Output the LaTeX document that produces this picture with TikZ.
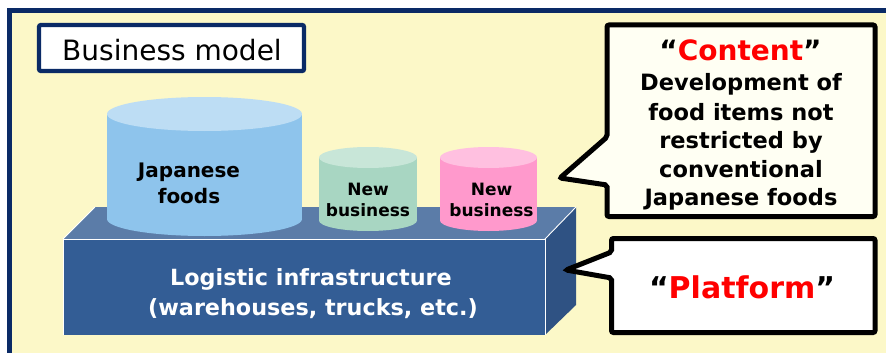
\documentclass[tikz,border=0pt]{standalone}
\usepackage{fontspec}
\setmainfont{DejaVu Sans}
\definecolor{bgyellow}{HTML}{FCF8C8}
\definecolor{navy}{HTML}{0A2A66}
\definecolor{boxfront}{HTML}{335D95}
\definecolor{boxtop}{HTML}{5B7CA8}
\definecolor{boxright}{HTML}{2F5283}
\definecolor{blueside}{HTML}{8EC4EC}
\definecolor{bluetop}{HTML}{BDDDF4}
\definecolor{greenside}{HTML}{A8D6C2}
\definecolor{greentop}{HTML}{C8E6D8}
\definecolor{pinkside}{HTML}{FF99CC}
\definecolor{pinktop}{HTML}{FFC0E0}
\definecolor{cream}{HTML}{FFFFF3}
\definecolor{hlred}{HTML}{FF0000}
\newcommand\drawcyl[7]{%
  \fill[#6] (#1,#3) rectangle (#2,#4);
  \fill[#6] ({(#1+#2)/2},#4) ellipse[x radius={(#2-#1)/2}, y radius=#5];
  \fill[#7] ({(#1+#2)/2},#3) ellipse[x radius={(#2-#1)/2}, y radius=#5];
}
\begin{document}
\begin{tikzpicture}[x=1pt,y=-1pt,
  cyltext/.style={anchor=base, inner sep=0pt, font=\fontsize{20pt}{24pt}\selectfont\bfseries},
  smalltext/.style={anchor=base, inner sep=0pt, font=\fontsize{17pt}{20pt}\selectfont\bfseries},
  boxtext/.style={anchor=base, inner sep=0pt, text=white, font=\fontsize{22.3pt}{26pt}\selectfont\bfseries},
  calltext/.style={anchor=base, inner sep=0pt, font=\fontsize{22.5pt}{26pt}\selectfont\bfseries},
  callout/.style={line width=5pt, draw=black, rounded corners=2pt, line join=miter},
  edge/.style={draw=white, line width=0.9pt}]
\useasboundingbox (0,0) rectangle (886,353);
\clip (0,0) rectangle (886,353);
\fill[white] (0,0) rectangle (886,353);
% outer frame
\filldraw[fill=bgyellow, draw=navy, line width=5pt] (9.5,10.5) rectangle (900,370);
% title box
\draw[navy, fill=white, line width=4.3pt, rounded corners=2pt] (39,25) rectangle (304,71);
\node[anchor=base, inner sep=0pt, font=\fontsize{28pt}{32pt}\selectfont] (title) at (172,60) {Business model};
% 3D box
\fill[boxtop] (63,239) -- (95,207) -- (576,207) -- (545,239) -- cycle;
\fill[boxright] (545,239) -- (576,207) -- (576,305) -- (545,335) -- cycle;
\fill[boxfront] (63,239) rectangle (545,335);
\draw[edge] (63,335) -- (63,239) -- (545,239) -- (545,335);
\draw[edge] (63,239) -- (95,207);
\draw[edge] (545,239) -- (576,207);
% cylinders
\drawcyl{107}{302}{114}{219}{17}{blueside}{bluetop}
\drawcyl{319}{417}{157.5}{220.5}{10.5}{greenside}{greentop}
\drawcyl{440}{537}{157.5}{220.5}{10.5}{pinkside}{pinktop}
\node[cyltext] (jf1) at (189,177) {Japanese};
\node[cyltext] (jf2) at (189,203) {foods};
\node[smalltext] (nb1) at (368,195) {New};
\node[smalltext] (nb2) at (368,216.5) {business};
\node[smalltext] (nb3) at (491.5,195) {New};
\node[smalltext] (nb4) at (491.5,216.5) {business};
\node[boxtext] (li1) at (311,285) {Logistic infrastructure};
\node[boxtext] (li2) at (313,315) {(warehouses, trucks, etc.)};
% callout content
\draw[callout, fill=cream] (607,25) -- (875,25) -- (875,216.5) -- (607,216.5) -- (607,185) -- (560,178) -- (607,137) -- cycle;
\node[anchor=base, inner sep=0pt, font=\fontsize{28pt}{32pt}\selectfont\bfseries] (ct) at (740.5,61) {“\textcolor{hlred}{Content}”};
\node[calltext] (c1) at (741,91) {Development of};
\node[calltext] (c2) at (741,120) {food items not};
\node[calltext] (c3) at (741,148) {restricted by};
\node[calltext] (c4) at (741,177) {conventional};
\node[calltext] (c5) at (741,205) {Japanese foods};
% callout platform
\draw[callout, fill=white] (611.5,238.5) -- (875,238.5) -- (875,332.5) -- (611.5,332.5) -- (611.5,278) -- (566,270) -- (611.5,252) -- cycle;
\node[anchor=base, inner sep=0pt, font=\fontsize{30pt}{34pt}\selectfont\bfseries] (pf) at (742,298) {“\textcolor{hlred}{Platform}”};
\end{tikzpicture}
\end{document}
